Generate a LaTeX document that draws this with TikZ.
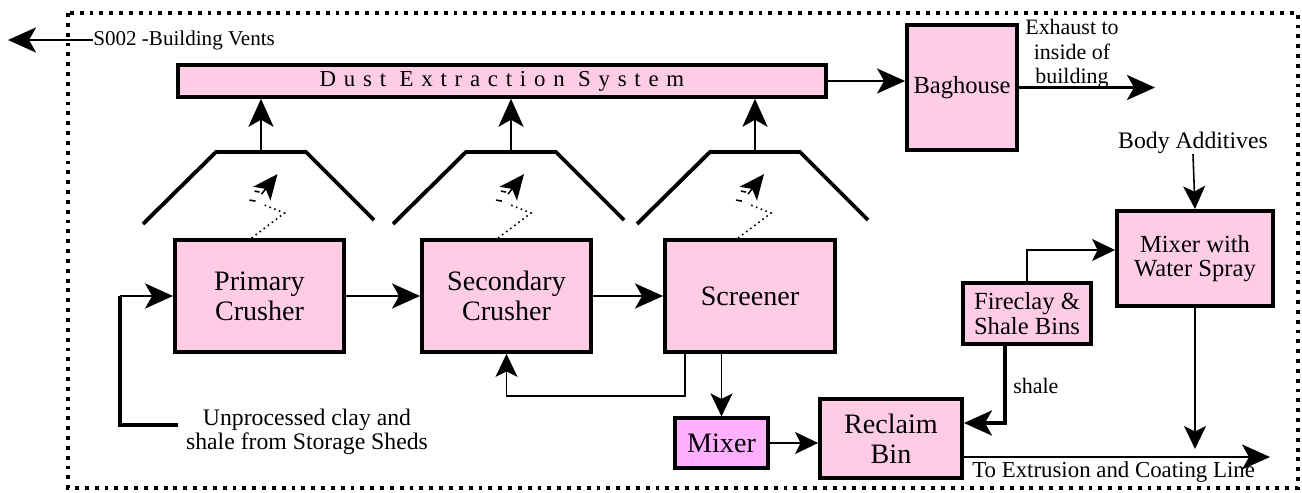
\documentclass[tikz,border=0pt]{standalone}
\usepackage{fontspec}
\setmainfont{Liberation Serif}
\newfontfamily\boxfont{Liberation Serif}
\usetikzlibrary{positioning}
\usetikzlibrary{arrows.meta}
\definecolor{boxpink}{RGB}{255,204,230}
\definecolor{mixpink}{RGB}{255,176,255}

\begin{document}
\begin{tikzpicture}[x = 0.02cm, y = -0.02cm,
	plantbox/.style = {draw = black, fill = boxpink, line width = 2.2pt, inner sep = 0pt, align = center, font = \boxfont\fontsize{16}{17}\selectfont},
	note/.style = {inner sep = 0pt, align = center, font = \boxfont\fontsize{13.5}{13.6}\selectfont},
	bigtip/.style = {-{Stealth[length = 0.56cm, width = 0.5cm, inset = 0.14cm]}},
	smalltip/.style = {-{Stealth[length = 0.46cm, width = 0.44cm, inset = 0.11cm]}},
	pufftip/.style = {-{Stealth[length = 0.5cm, width = 0.44cm, inset = 0.12cm]}},
	heavy/.style = {line width = 2.2pt},
	medium/.style = {line width = 1.6pt},
	light/.style = {line width = 0.9pt}]
					\useasboundingbox (0, 0) rectangle (1302, 493);
					\draw [black, line width = 1.8pt, dash pattern = on 2.2pt off 3.4pt] (68, 13) rectangle (1298, 488);
					\node (dust) at (502, 81) [plantbox, line width = 2pt, minimum width = 12.96cm, minimum height = 0.64cm, font = \boxfont\fontsize{13}{14}\selectfont\addfontfeature{LetterSpace = 34}] {Dust Extraction System};
					\node (baghouse) at (962, 87.5) [plantbox, minimum width = 2.2cm, minimum height = 2.5cm, font = \boxfont\fontsize{14}{15}\selectfont] {Baghouse};
					\node (primary) at (259.5, 296) [plantbox, minimum width = 3.38cm, minimum height = 2.24cm] {Primary\\Crusher};
					\node (secondary) at (506.5, 296) [plantbox, minimum width = 3.38cm, minimum height = 2.24cm] {Secondary\\Crusher};
					\node (screener) at (750, 296) [plantbox, minimum width = 3.4cm, minimum height = 2.24cm] {Screener};
					\node (mixer) at (721.5, 443) [plantbox, fill = mixpink, line width = 1.8pt, minimum width = 1.86cm, minimum height = 1cm] {Mixer};
					\node (reclaim) at (891, 438.5) [plantbox, minimum width = 2.84cm, minimum height = 1.58cm] {Reclaim\\Bin};
					\node (fireclay) at (1027, 313.5) [plantbox, minimum width = 2.56cm, minimum height = 1.22cm, font = \boxfont\fontsize{14}{14.2}\selectfont] {Fireclay \&\\Shale Bins};
					\node (mixwater) at (1195, 258.5) [plantbox, minimum width = 3.12cm, minimum height = 1.9cm, font = \boxfont\fontsize{14}{13.8}\selectfont] {Mixer with\\Water Spray};
					\node (vents) at (93, 40) [note, anchor = west, font = \boxfont\fontsize{12}{13}\selectfont] {S002 -Building Vents};
					\node (exhausttext) at (1072, 54) [note, font = \boxfont\fontsize{12.5}{14}\selectfont] {Exhaust to\\inside of\\building};
					\node (additives) at (1193, 143) [note] {Body Additives};
					\node (unproc) at (307, 432) [note] {Unprocessed clay and\\shale from Storage Sheds};
					\node (shale) at (1013, 386) [note, anchor = west, font = \boxfont\fontsize{12.5}{13}\selectfont] {shale};
					\node (extrusion) at (972, 472) [note, anchor = west, font = \boxfont\fontsize{13}{14}\selectfont] {To Extrusion and Coating Line};
					\coordinate (vent) at (8, 40);
					\coordinate (exhaust) at (1155, 87.5);
					\coordinate (feed) at (178, 425);
					\coordinate (extrude) at (1270, 457);
					\coordinate (outtip) at (1195, 449);
					\foreach \hx / \name in {143/hoodA, 393/hoodB, 637/hoodC} {
						\draw [black, heavy] (\hx, 224) -- ++(73, -72) -- ++(90, 0) -- ++(68, 68);
						\coordinate (\name) at (\hx + 118, 152);
					}
					\foreach \name in {hoodA, hoodB, hoodC}
						\draw [black, medium, bigtip] (\name) -- (\name |- dust.south);
					\foreach \part / \dx in {primary/-0.16cm, secondary/-0.17cm, screener/-0.24cm} {
						\draw [black, light, dotted] ([xshift = \dx]\part.north) -- ++(33, -25) -- ++(-20, -8);
						\draw [black, light, pufftip] ([xshift = \dx]\part.north) ++(10, -44) -- ++(16, -20);
						\draw [black, light] ([xshift = \dx]\part.north) ++(-2, -38) -- ++(6, 1);
						\draw [black, light] ([xshift = \dx]\part.north) ++(3, -47) -- ++(5, 1);
					}
					\draw [black, medium, bigtip] (vents.west) -- (vent);
					\draw [black, medium, bigtip] (dust.east) -- (dust.east -| baghouse.west);
					\draw [black, medium, bigtip] (baghouse.east) -- (exhaust);
					\draw [black, heavy] (feed) -| ([xshift = -1.06cm]primary.west);
					\draw [black, medium, bigtip] ([xshift = -1.06cm]primary.west) -- (primary.west);
					\draw [black, medium, bigtip] (primary.east) -- (secondary.west);
					\draw [black, medium, bigtip] (secondary.east) -- (screener.west);
					\draw [black, light, smalltip] ([xshift = -1.3cm]screener.south) |- ([yshift = -0.84cm]secondary.south) -- (secondary.south);
					\draw [black, light, smalltip] (mixer.north |- screener.south) -- (mixer.north);
					\draw [black, light, smalltip] (mixer.east) -- (mixer.east -| reclaim.west);
					\draw [black, light, smalltip] (fireclay.north) |- ([yshift = 0.17cm]mixwater.west);
					\draw [black, heavy, bigtip] ([xshift = -0.44cm]fireclay.south) |- ([yshift = 0.31cm]reclaim.east);
					\draw [black, light, smalltip] (additives.south) -- (mixwater.north);
					\draw [black, light, smalltip] (mixwater.south) -- (outtip);
					\draw [black, light, bigtip] (reclaim.east |- extrude) -- (extrude);
				\end{tikzpicture}
\end{document}
